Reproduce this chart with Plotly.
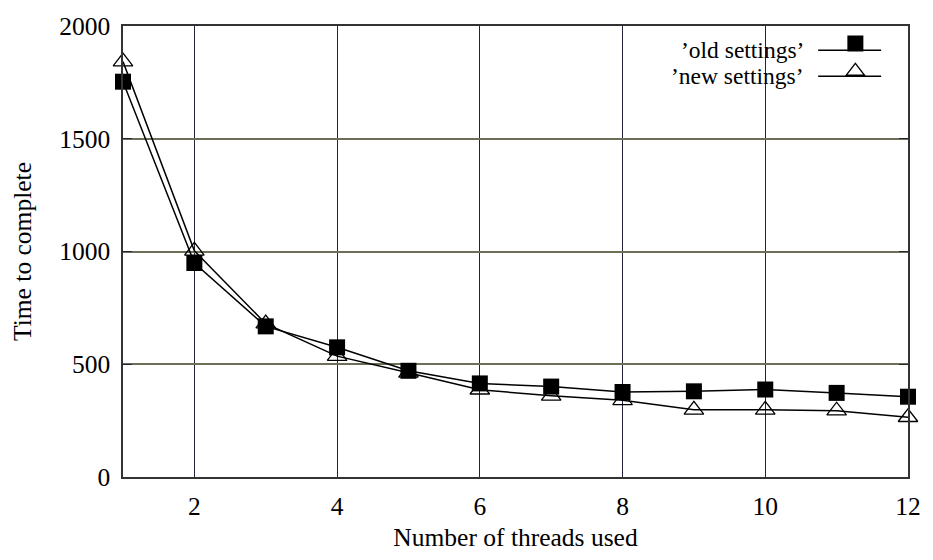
import plotly.graph_objects as go

threads = [1, 2, 3, 4, 5, 6, 7, 8, 9, 10, 11, 12]
old_settings = [1753, 949, 668, 575, 471, 415, 401, 377, 380, 388, 373, 356]
new_settings = [1842, 1003, 680, 536, 462, 387, 360, 340, 298, 298, 294, 265]
x_ticks = [2, 4, 6, 8, 10, 12]
y_ticks = [0, 500, 1000, 1500, 2000]
legend_labels = ["\u2019old settings\u2019", "\u2019new settings\u2019"]

FONT = "Liberation Serif, Times New Roman, serif"
FS = 25.5
LFS = 23.5
HGRID = "#6e6e58"
VGRID = "#22223a"

fig = go.Figure()

# new settings first so squares sit on top
fig.add_trace(go.Scatter(
    x=threads, y=new_settings, mode="lines+markers", name=legend_labels[1],
    line=dict(color="black", width=1.5), cliponaxis=False,
    marker=dict(symbol="triangle-up-open", size=17, color="black", line=dict(width=1.3, color="black")),
    showlegend=False,
))
fig.add_trace(go.Scatter(
    x=threads, y=old_settings, mode="lines+markers", name=legend_labels[0],
    line=dict(color="black", width=1.5), cliponaxis=False,
    marker=dict(symbol="square", size=16, color="black"),
    showlegend=False,
))

# legend keys (native legend, labels drawn as annotations to the left like gnuplot)
fig.add_trace(go.Scatter(
    x=[None], y=[None], mode="markers", name=" ",
    marker=dict(symbol="square", size=16, color="black"), showlegend=True, legendrank=1,
))
fig.add_trace(go.Scatter(
    x=[None], y=[None], mode="markers", name="  ",
    marker=dict(symbol="triangle-up-open", size=17, color="black", line=dict(width=1.3, color="black")),
    showlegend=True, legendrank=2,
))

def px_x(p):
    return (p - 123) / 789.0

def px_y(p):
    return (477.3 - p) / 459.0

rows = [43.0, 69.5]
for lab, ry in zip(legend_labels, rows):
    fig.add_annotation(
        x=px_x(808), y=px_y(ry), xref="paper", yref="paper",
        text=lab, showarrow=False, xanchor="right", yanchor="middle",
        font=dict(family=FONT, size=LFS, color="black"), borderpad=0,
    )
    fig.add_shape(
        type="line", xref="paper", yref="paper",
        x0=px_x(821.7), x1=px_x(885), y0=px_y(ry), y1=px_y(ry),
        line=dict(color="black", width=1.5), layer="above",
    )

fig.update_layout(
    width=933, height=560,
    margin=dict(l=123, r=21, t=18, b=83),
    paper_bgcolor="white", plot_bgcolor="white",
    font=dict(family=FONT, size=FS, color="black"),
    legend=dict(
        x=px_x(839), y=px_y(17), xanchor="left", yanchor="top",
        bgcolor="rgba(0,0,0,0)", borderwidth=0,
        font=dict(size=19), tracegroupgap=0, itemwidth=30,
        traceorder="normal",
    ),
    xaxis=dict(
        range=[1, 12], tickvals=x_ticks, ticktext=[str(v) for v in x_ticks],
        showgrid=True, gridcolor=VGRID, gridwidth=1,
        showline=True, linecolor="#333333", linewidth=1.5, mirror="ticks",
        ticks="inside", ticklen=9, tickcolor=VGRID, tickwidth=1,
        zeroline=False, ticklabelstandoff=6,
        title=dict(text="Number of threads used", font=dict(size=FS, color="black"), standoff=8),
        tickfont=dict(size=FS, color="black"),
    ),
    yaxis=dict(
        range=[0, 2000], tickvals=y_ticks, ticktext=[str(v) for v in y_ticks],
        showgrid=True, gridcolor=HGRID, gridwidth=1.5,
        showline=True, linecolor="#333333", linewidth=1.5, mirror="ticks",
        ticks="inside", ticklen=9, tickcolor=VGRID, tickwidth=1,
        zeroline=False, ticklabelstandoff=6,
        title=dict(text="Time to complete", font=dict(size=FS, color="black"), standoff=20),
        tickfont=dict(size=FS, color="black"),
    ),
    showlegend=True,
)

fig.write_html("out.html")
